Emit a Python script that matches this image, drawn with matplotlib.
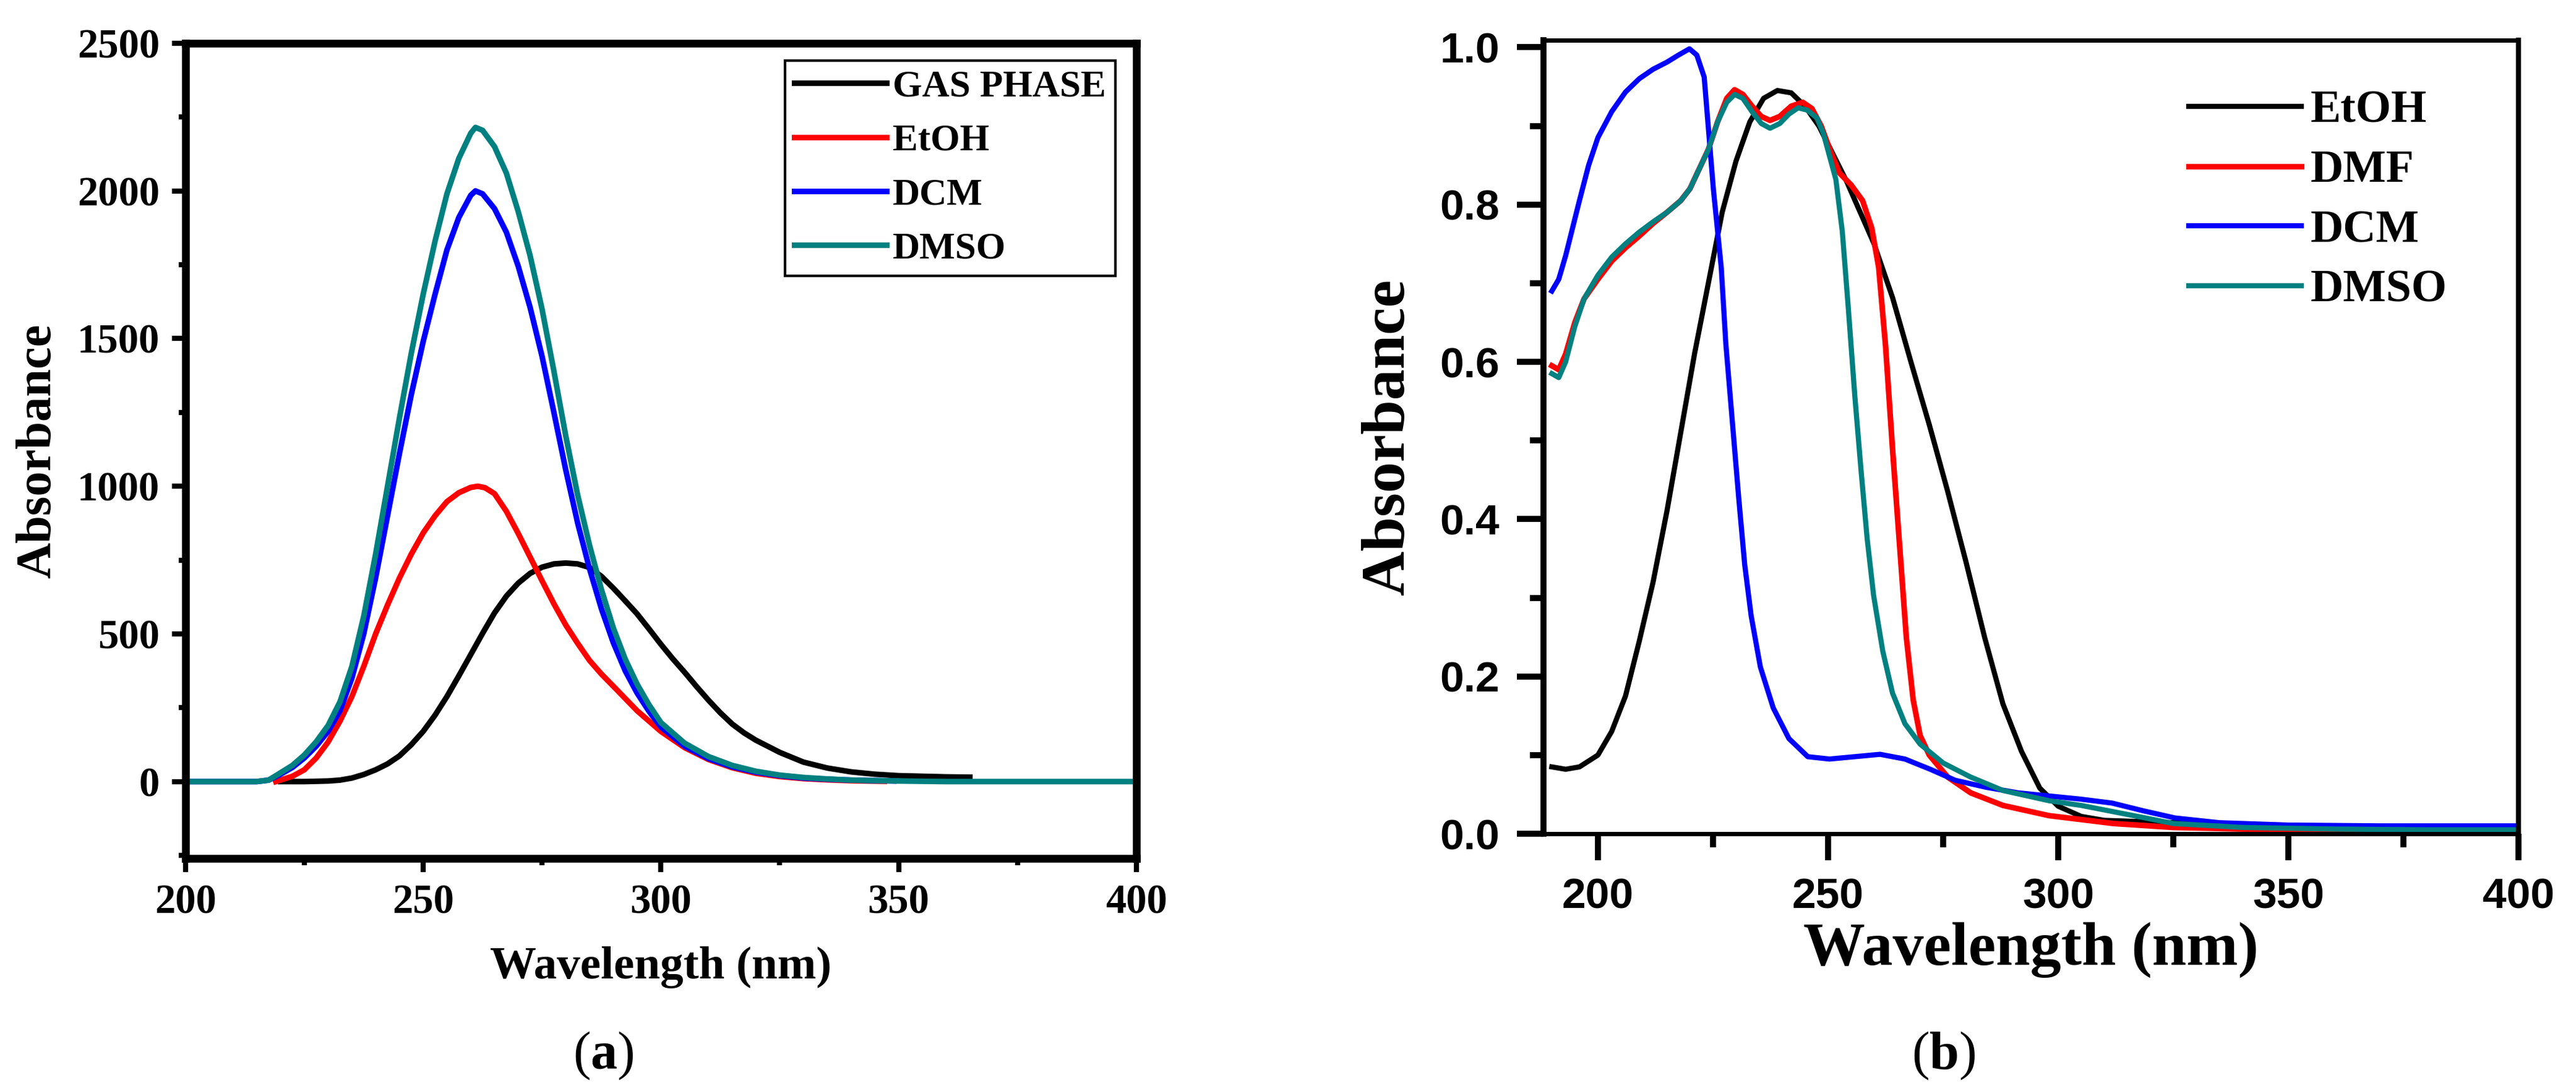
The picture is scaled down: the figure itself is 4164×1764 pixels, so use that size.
import matplotlib
matplotlib.use("Agg")
import matplotlib.pyplot as plt
from matplotlib.ticker import MultipleLocator, FormatStrFormatter

# ---- panel (a): computed spectra ----
GAS_X = [220, 225, 230, 232.5, 235, 237.5, 240, 242.5, 245, 247.5, 250, 252.5, 255, 257.5,
         260, 262.5, 265, 267.5, 270, 272.5, 275, 277.5, 280, 282.5, 285, 287.5, 290,
         292.5, 295, 297.5, 300, 302.5, 305, 307.5, 310, 312.5, 315, 317.5, 320, 325,
         330, 335, 340, 345, 350, 355, 360, 365]
GAS_Y = [0, 0, 2, 5, 12, 24, 40, 60, 87, 125, 170, 225, 288, 358,
         430, 502, 571, 628, 672, 705, 726, 737, 740, 737, 725, 695, 655,
         612, 568, 517, 465, 416, 370, 322, 276, 233, 195, 165, 140, 99,
         66, 46, 33, 25, 20, 18, 16, 15]

ETOH_A_X = [219, 222.5, 225, 227.5, 230, 232.5, 235, 237.5, 240, 242.5, 245, 247.5, 250,
            252.5, 255, 257.5, 260, 261.5, 263, 265, 267.5, 270, 272.5, 275, 277.5, 280,
            282.5, 285, 287.5, 290, 295, 300, 305, 310, 315, 320, 325, 330, 335, 340, 347]
ETOH_A_Y = [0, 18, 40, 80, 134, 205, 288, 390, 500, 598, 689, 770, 842,
            900, 948, 978, 996, 1000, 995, 975, 915, 840, 760, 680, 602, 530,
            468, 410, 364, 323, 240, 170, 115, 75, 47, 28, 17, 10, 6, 3, 1]

DCM_A_X = [200, 210, 215, 217.5, 220, 222.5, 225, 227.5, 230, 232.5, 235, 237.5, 240,
           242.5, 245, 247.5, 250, 252.5, 255, 257.5, 260, 261, 262.5, 265, 267.5, 270,
           272.5, 275, 277.5, 280, 282.5, 285, 287.5, 290, 292.5, 295, 297.5, 300, 305,
           310, 315, 320, 325, 330, 335, 340, 349]
DCM_A_Y = [0, 0, 0, 5, 25, 48, 80, 120, 170, 240, 350, 500, 690,
           900, 1110, 1310, 1490, 1650, 1800, 1910, 1985, 2000, 1990, 1940, 1860, 1745,
           1605, 1440, 1250, 1055, 875, 720, 585, 470, 375, 300, 238, 185, 120,
           78, 50, 32, 20, 12, 8, 5, 2]

DMSO_A_X = [200, 210, 215, 217.5, 220, 222.5, 225, 227.5, 230, 232.5, 235, 237.5, 240,
            242.5, 245, 247.5, 250, 252.5, 255, 257.5, 260, 261, 262.5, 265, 267.5, 270,
            272.5, 275, 277.5, 280, 282.5, 285, 287.5, 290, 292.5, 295, 297.5, 300, 305,
            310, 315, 320, 325, 330, 335, 340, 350, 360, 380, 400]
DMSO_A_Y = [0, 0, 0, 5, 30, 55, 90, 135, 190, 270, 390, 560, 770,
            1000, 1230, 1450, 1650, 1830, 1990, 2110, 2195, 2215, 2205, 2150, 2060, 1930,
            1780, 1600, 1390, 1170, 970, 800, 650, 520, 415, 330, 260, 200, 130,
            85, 55, 35, 22, 14, 9, 5, 2, 0, 0, 0]

# ---- panel (b): measured spectra ----
ETOH_B_X = [190, 193, 196, 200, 203, 206, 209, 212, 215, 218, 221, 224, 227, 230, 233,
            236, 239, 242, 245, 248, 251, 254, 257, 260, 264, 268, 272, 276, 280, 284,
            288, 292, 296, 300, 305, 310, 320, 330, 340, 360, 380, 400]
ETOH_B_Y = [0.085, 0.082, 0.085, 0.10, 0.13, 0.175, 0.245, 0.32, 0.41, 0.51, 0.61, 0.70,
            0.79, 0.855, 0.905, 0.935, 0.945, 0.942, 0.925, 0.90, 0.865, 0.83, 0.79, 0.75,
            0.682, 0.60, 0.52, 0.435, 0.345, 0.25, 0.165, 0.105, 0.058, 0.035, 0.022,
            0.017, 0.015, 0.013, 0.01, 0.008, 0.006, 0.005]

DMF_X = [190, 191.5, 193, 195, 197, 200, 203, 206, 209, 212, 215, 218, 220, 222, 224,
         226, 228, 229.7, 231.5, 233.5, 235.5, 237.4, 239.5, 242, 244.5, 246.5, 248.5,
         250.5, 252.5, 255, 257.5, 259.5, 261, 262.5, 264, 265.5, 267, 268.5, 270, 272,
         276, 281, 288, 298, 305, 312, 325, 340, 360, 380, 400]
DMF_Y = [0.595, 0.59, 0.61, 0.65, 0.68, 0.705, 0.728, 0.745, 0.76, 0.776, 0.79, 0.805,
         0.82, 0.845, 0.87, 0.905, 0.935, 0.946, 0.94, 0.925, 0.912, 0.907, 0.912, 0.925,
         0.93, 0.922, 0.90, 0.868, 0.84, 0.825, 0.805, 0.77, 0.72, 0.62, 0.49, 0.37,
         0.25, 0.17, 0.125, 0.10, 0.072, 0.052, 0.036, 0.023, 0.018, 0.013, 0.008,
         0.006, 0.005, 0.004, 0.003]

DCM_B_X = [190, 191.5, 193, 194.5, 196, 198, 200, 203, 206, 209, 212, 215, 217.5, 219.9,
           221.5, 223.1, 225.1, 226.8, 227.8, 229.2, 230.6, 231.9, 233.3, 235.3, 238.1,
           241.5, 245.6, 250.3, 255.8, 261.3, 266.7, 272.2, 277.6, 284.4, 291.3, 298.1,
           304.9, 311.7, 318.6, 325.4, 335, 350, 370, 400]
DCM_B_Y = [0.69, 0.705, 0.735, 0.77, 0.805, 0.85, 0.885, 0.918, 0.943, 0.96, 0.972, 0.981,
           0.99, 0.998, 0.99, 0.962, 0.819, 0.72, 0.623, 0.525, 0.427, 0.342, 0.277,
           0.212, 0.16, 0.121, 0.098, 0.095, 0.098, 0.101, 0.095, 0.082, 0.068, 0.059,
           0.052, 0.048, 0.044, 0.039, 0.029, 0.02, 0.014, 0.011, 0.01, 0.01]

DMSO_B_X = [190, 191.5, 193, 195, 197, 200, 203, 206, 209, 212, 215, 218, 220, 222, 224,
            226, 228, 229.7, 231.5, 233.5, 235.5, 237.4, 239.5, 241.5, 243.5, 245.5,
            247.6, 249, 250.3, 251.7, 253.1, 254.4, 255.8, 257.2, 258.5, 259.9, 261.9,
            264, 266.7, 270, 275, 281, 288, 298, 305, 312, 319, 325, 340, 360, 380, 400]
DMSO_B_Y = [0.585, 0.58, 0.60, 0.645, 0.68, 0.71, 0.733, 0.75, 0.765, 0.778, 0.79, 0.805,
            0.82, 0.845, 0.87, 0.905, 0.93, 0.94, 0.935, 0.918, 0.903, 0.897, 0.903,
            0.915, 0.923, 0.92, 0.91, 0.89, 0.862, 0.832, 0.766, 0.669, 0.558, 0.46,
            0.375, 0.303, 0.232, 0.179, 0.14, 0.114, 0.09, 0.072, 0.055, 0.042, 0.036,
            0.028, 0.02, 0.013, 0.008, 0.006, 0.005, 0.005]

SERIF = "Liberation Serif"
SANS = "Liberation Sans"
TEAL = "#008080"

plt.rcParams["mathtext.fontset"] = "custom"
plt.rcParams["mathtext.rm"] = SERIF
plt.rcParams["mathtext.bf"] = SERIF + ":bold"

fig = plt.figure(figsize=(41.64, 17.64), dpi=100)

# ---------------- (a) ----------------
ax_a = fig.add_axes([0.0720, 0.2132, 0.3691, 0.7472])
ax_a.plot(GAS_X, GAS_Y, color="black", lw=6.5, label="GAS PHASE")
ax_a.plot(ETOH_A_X, ETOH_A_Y, color="red", lw=6.5, label="EtOH")
ax_a.plot(DCM_A_X, DCM_A_Y, color="blue", lw=6.5, label="DCM")
ax_a.plot(DMSO_A_X, DMSO_A_Y, color=TEAL, lw=6.5, label="DMSO")
ax_a.set_xlim(200, 400)
ax_a.set_ylim(-260, 2500)
ax_a.xaxis.set_major_locator(MultipleLocator(50))
ax_a.xaxis.set_minor_locator(MultipleLocator(25))
ax_a.yaxis.set_major_locator(MultipleLocator(500))
ax_a.yaxis.set_minor_locator(MultipleLocator(250))
ax_a.tick_params(which="both", direction="out", top=False, right=False, width=6)
ax_a.tick_params(which="major", length=16, pad=14)
ax_a.tick_params(which="minor", length=8)
for s in ax_a.spines.values():
    s.set_linewidth(9)
for lab in ax_a.get_xticklabels() + ax_a.get_yticklabels():
    lab.set_fontfamily(SERIF)
    lab.set_fontweight("bold")
    lab.set_fontsize(48)
ax_a.set_xlabel("Wavelength (nm)", fontfamily=SERIF, fontweight="bold", fontsize=54)
ax_a.set_ylabel("Absorbance", fontfamily=SERIF, fontweight="bold", fontsize=58)
ax_a.xaxis.set_label_coords(0.5, -0.108)
ax_a.yaxis.set_label_coords(-0.131, 0.5)
leg_a = ax_a.legend(loc="upper right", bbox_to_anchor=(0.978, 0.979), borderaxespad=0,
                    frameon=True, fancybox=False, edgecolor="black", framealpha=1,
                    prop=dict(family=SERIF, weight="bold", size=44),
                    handlelength=2.43, handletextpad=0.17, labelspacing=0.51, borderpad=0.25)
leg_a.get_frame().set_linewidth(3)

# ---------------- (b) ----------------
ax_b = fig.add_axes([0.5992, 0.2358, 0.3785, 0.7274])
ax_b.plot(ETOH_B_X, ETOH_B_Y, color="black", lw=6, label="EtOH")
ax_b.plot(DMF_X, DMF_Y, color="red", lw=6.5, label="DMF")
ax_b.plot(DCM_B_X, DCM_B_Y, color="blue", lw=6, label="DCM")
ax_b.plot(DMSO_B_X, DMSO_B_Y, color=TEAL, lw=6, label="DMSO")
ax_b.set_xlim(188.2, 400)
ax_b.set_ylim(0, 1.009)
ax_b.xaxis.set_major_locator(MultipleLocator(50))
ax_b.xaxis.set_minor_locator(MultipleLocator(25))
ax_b.yaxis.set_major_locator(MultipleLocator(0.2))
ax_b.yaxis.set_minor_locator(MultipleLocator(0.1))
ax_b.yaxis.set_major_formatter(FormatStrFormatter("%.1f"))
ax_b.tick_params(which="both", direction="out", top=False, right=False, width=7)
ax_b.tick_params(which="major", length=31, pad=20)
ax_b.tick_params(which="minor", length=16)
ax_b.spines["left"].set_linewidth(7)
ax_b.spines["right"].set_linewidth(6)
ax_b.spines["top"].set_linewidth(5)
ax_b.spines["bottom"].set_linewidth(5)
for lab in ax_b.get_xticklabels() + ax_b.get_yticklabels():
    lab.set_fontfamily(SANS)
    lab.set_fontweight("bold")
    lab.set_fontsize(50)
ax_b.set_xlabel("Wavelength (nm)", fontfamily=SERIF, fontweight="bold", fontsize=72)
ax_b.set_ylabel("Absorbance", fontfamily=SERIF, fontweight="bold", fontsize=72)
ax_b.xaxis.set_label_coords(0.5, -0.111)
ax_b.yaxis.set_label_coords(-0.130, 0.5)
ax_b.legend(loc="upper left", bbox_to_anchor=(0.662, 0.937), borderaxespad=0,
            frameon=False, prop=dict(family=SERIF, weight="bold", size=53),
            handlelength=2.47, handletextpad=0.2, labelspacing=0.39, borderpad=0)

# panel captions
fig.text(975 / 4164, 1 - 1707 / 1764, "(" + r"$\mathbf{a}$" + ")", ha="center", va="center",
         fontsize=62, fontfamily=SERIF)
fig.text(3142 / 4164, 1 - 1707 / 1764, "(" + r"$\mathbf{b}$" + ")", ha="center", va="center",
         fontsize=62, fontfamily=SERIF)

fig.savefig("out.png", dpi=100)
